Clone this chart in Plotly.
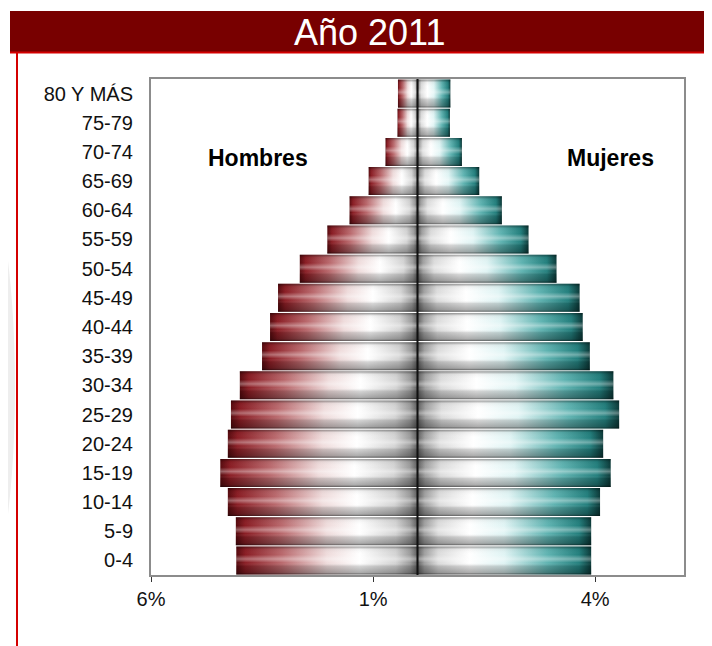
import plotly.graph_objects as go

age_groups = ["0-4", "5-9", "10-14", "15-19", "20-24", "25-29", "30-34", "35-39",
              "40-44", "45-49", "50-54", "55-59", "60-64", "65-69", "70-74", "75-79", "80 Y MÁS"]
hombres = [4.08, 4.09, 4.27, 4.44, 4.27, 4.20, 4.00, 3.50, 3.32, 3.14, 2.65, 2.03, 1.53, 1.10, 0.72, 0.45, 0.44]
mujeres = [3.91, 3.91, 4.11, 4.35, 4.18, 4.54, 4.41, 3.88, 3.72, 3.65, 3.13, 2.50, 1.90, 1.39, 1.00, 0.73, 0.74]
x_tick_values = [-6, -1, 4]
x_tick_labels = ["6%", "1%", "4%"]
titulo = "Año 2011"

male_scale = [[0, "#560a0e"], [0.05, "#8a1d24"], [0.25, "#b9686c"], [0.5, "#efdcdc"],
              [0.68, "#ffffff"], [0.88, "#d4d4d4"], [0.96, "#9c9c9c"], [1, "#5e5e5e"]]
female_scale = [[0, "#5e5e5e"], [0.04, "#a0a0a0"], [0.12, "#dcdcdc"], [0.3, "#ffffff"],
                [0.5, "#e0f4f4"], [0.75, "#5fb3b1"], [0.93, "#237f7d"], [1, "#0b3938"]]
shade_scale = [[0, "rgba(0,0,0,0.6)"], [0.07, "rgba(0,0,0,0.32)"], [0.3, "rgba(0,0,0,0.16)"],
               [0.42, "rgba(255,255,255,0)"], [0.55, "rgba(255,255,255,0.35)"],
               [0.7, "rgba(255,255,255,0)"], [0.9, "rgba(0,0,0,0.05)"], [1, "rgba(0,0,0,0.4)"]]

h = 0.48
fig = go.Figure()

def add_bar(x_end, yi, scale, start, stop):
    xs = [x_end, x_end, 0, 0, x_end]
    ys = [yi - h, yi + h, yi + h, yi - h, yi - h]
    fig.add_trace(go.Scatter(x=xs, y=ys, mode="lines", fill="toself", line=dict(width=0),
                             fillgradient=dict(type="horizontal", colorscale=scale, start=start, stop=stop),
                             hoverinfo="skip", showlegend=False))
    fig.add_trace(go.Scatter(x=xs, y=ys, mode="lines", fill="toself", line=dict(width=0),
                             fillgradient=dict(type="vertical", colorscale=shade_scale, start=yi - h, stop=yi + h),
                             hoverinfo="skip", showlegend=False))

for i, (m, f) in enumerate(zip(hombres, mujeres)):
    add_bar(-m, i, male_scale, -m, 0)
    add_bar(f, i, female_scale, 0, f)

OFF = 8  # page body margin
W, H = 712 - OFF, 646 - OFF
L, R, T, B = 151 - OFF, 684 - OFF, 79 - OFF, 575 - OFF
pw, ph = R - L, B - T
def px(x):
    return (x - OFF - L) / pw
def py(y):
    return (B - (y - OFF)) / ph

shapes = [
    dict(type="circle", xref="paper", yref="paper", x0=px(-60), x1=px(15), y0=py(605), y1=py(170),
         fillcolor="#eeeeee", line=dict(width=0), layer="below"),
    dict(type="rect", xref="paper", yref="paper", x0=px(10), x1=px(720), y0=py(53), y1=py(11),
         fillcolor="#780000", line=dict(width=0), layer="above"),
    dict(type="line", xref="paper", yref="paper", x0=px(10), x1=px(720), y0=py(52.5), y1=py(52.5),
         line=dict(color="#d40000", width=2)),
    dict(type="line", xref="paper", yref="paper", x0=px(17), x1=px(17), y0=py(53), y1=py(660),
         line=dict(color="#d40000", width=2)),
    dict(type="line", xref="x", yref="paper", x0=0, x1=0, y0=0, y1=1,
         line=dict(color="#111111", width=2), layer="above"),
]

annotations = [
    dict(text=titulo, xref="paper", yref="paper", x=px(369), y=py(33), showarrow=False,
         font=dict(family="Liberation Sans, Arial", size=36, color="white"),
         xanchor="center", yanchor="middle"),
    dict(text="<b>Hombres</b>", xref="paper", yref="paper", x=px(258), y=py(158), showarrow=False,
         font=dict(family="Liberation Sans, Arial", size=23, color="black"), xanchor="center", yanchor="middle"),
    dict(text="<b>Mujeres</b>", xref="paper", yref="paper", x=px(610), y=py(158), showarrow=False,
         font=dict(family="Liberation Sans, Arial", size=23, color="black"), xanchor="center", yanchor="middle"),
]

fig.update_layout(
    width=W, height=H,
    margin=dict(l=L, r=W - R, t=T, b=H - B, pad=0),
    paper_bgcolor="white", plot_bgcolor="white",
    shapes=shapes, annotations=annotations,
    font=dict(family="Liberation Sans, Arial", size=20, color="#111111"),
    xaxis=dict(range=[-6, 6], tickvals=x_tick_values, ticktext=x_tick_labels, showgrid=False,
               zeroline=False, showline=True, linecolor="#8c8c8c", linewidth=2, mirror=True,
               ticks="outside", ticklen=5, tickcolor="#333333", tickwidth=1, ticklabelstandoff=0,
               fixedrange=True),
    yaxis=dict(range=[-0.5, 16.5], tickvals=list(range(len(age_groups))), ticktext=age_groups,
               showgrid=False, zeroline=False, showline=True, linecolor="#8c8c8c", linewidth=2,
               mirror=True, ticks="", ticklabelstandoff=12, fixedrange=True),
)

fig.write_html("out.html")
